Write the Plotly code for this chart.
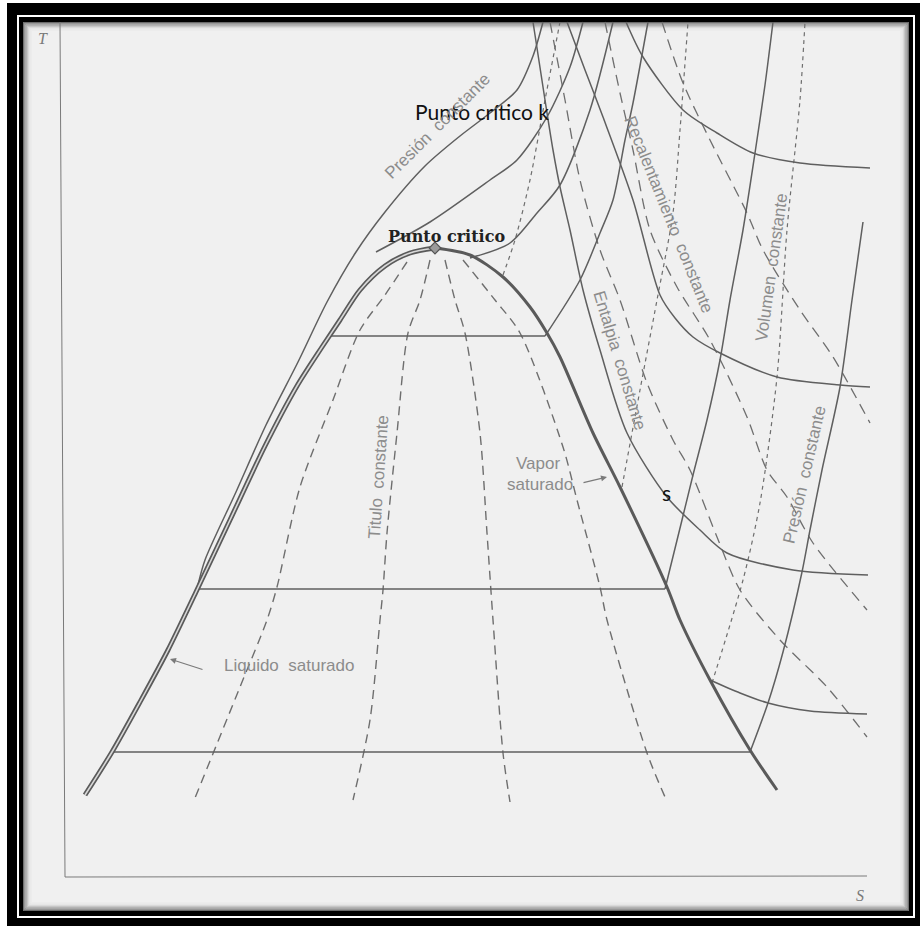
import plotly.graph_objects as go

# ---------------- saturation dome (entropy s, temperature T in drawing units) -------------
s_liq = [85, 112, 140, 168, 196, 230, 265, 297, 322, 340, 360, 385, 410, 435]
T_liq = [131, 174, 224, 276, 334, 406, 480, 540, 579, 606, 636, 660, 673, 678]
s_vap = [435, 470, 503, 530, 547, 560, 593, 620, 667, 680, 710, 750, 777]
T_vap = [678, 671, 649, 619, 593, 569, 493, 439, 339, 306, 246, 176, 136]
s_crit = [435]
T_crit = [678]

# horizontal (two-phase) parts of the isobars
tie_T = [590, 337, 174]
tie_s_left = [328, 197, 112]
tie_s_right = [545, 665, 750]

# isobars in the superheated / supercritical region
s_p_low = [750, 768, 783, 802, 810, 822, 840, 852, 863]
T_p_low = [174, 223, 274, 354, 396, 456, 539, 626, 704]
s_p_mid = [665, 682, 693, 707, 720, 730, 743, 755, 765, 773]
T_p_mid = [337, 406, 451, 506, 566, 626, 696, 773, 841, 904]
s_p_top = [545, 580, 600, 613, 625, 633, 648]
T_p_top = [590, 646, 693, 726, 786, 823, 904]
s_p_cr = [470, 510, 537, 560, 590, 613]
T_p_cr = [668, 683, 713, 741, 816, 904]
s_p_sc2 = [376, 430, 490, 517, 547, 570, 583]
T_p_sc2 = [674, 704, 746, 766, 809, 859, 904]
s_p_sc1 = [198, 205, 236, 266, 298, 327, 356, 385, 425, 460, 490, 517, 533, 543]
T_p_sc1 = [341, 366, 434, 501, 564, 624, 674, 714, 760, 790, 813, 836, 870, 904]

# constant enthalpy lines
s_h1 = [533, 545, 553, 560, 570, 583, 600, 627, 667, 700, 727, 793, 868]
T_h1 = [904, 826, 776, 739, 696, 636, 576, 493, 429, 396, 373, 356, 351]
s_h2 = [626, 643, 683, 717, 753, 800, 870]
T_h2 = [904, 869, 816, 793, 773, 763, 758]
s_h3 = [567, 585, 603, 633, 660, 675, 693, 720, 777, 840, 870]
T_h3 = [904, 856, 809, 726, 631, 608, 589, 573, 549, 541, 539]
s_h4 = [710, 740, 768, 810, 867]
T_h4 = [246, 233, 223, 215, 212]

# constant quality lines
s_q1 = [407, 385, 360, 333, 300, 277, 267, 240, 195]
T_q1 = [664, 631, 596, 526, 439, 339, 306, 239, 128]
s_q2 = [430, 420, 408, 397, 387, 383, 380, 370, 353]
T_q2 = [666, 626, 593, 493, 393, 336, 306, 206, 126]
s_q3 = [445, 455, 465, 480, 487, 493, 503, 510]
T_q3 = [666, 626, 593, 493, 393, 306, 173, 124]
s_q4 = [463, 495, 520, 563, 577, 600, 607, 647, 665]
T_q4 = [666, 626, 593, 479, 426, 339, 306, 173, 129]

# constant volume lines
s_v0 = [503, 515, 530, 545, 560]
T_v0 = [651, 686, 746, 826, 904]
s_v1 = [622, 640, 657, 673, 680, 688]
T_v1 = [439, 536, 626, 713, 796, 904]
s_v2 = [712, 743, 760, 777, 787, 800, 805]
T_v2 = [243, 346, 423, 549, 696, 826, 904]

# constant superheat lines
s_shA = [550, 565, 580, 600, 620, 647, 673, 690, 717, 740, 780, 827, 867]
T_shA = [904, 826, 746, 676, 626, 543, 486, 456, 389, 336, 286, 239, 189]
s_shB = [605, 620, 633, 650, 677, 710, 747, 767, 787, 813, 867]
T_shB = [904, 833, 776, 696, 639, 586, 509, 456, 429, 383, 316]
s_shC = [662, 683, 710, 747, 763, 800, 833, 870]
T_shC = [904, 843, 786, 713, 676, 616, 569, 503]

# axes of the diagram
s_axis_T = [60, 65]
T_axis_T = [904, 49]
s_axis_S = [65, 867]
T_axis_S = [49, 50]

INK = "#5f5f5f"
DASH_INK = "#6e6e6e"
LABEL = "#8c8c8c"

fig = go.Figure()


def curve(s, T, color=INK, width=1.5, dash="solid", shape="spline"):
    fig.add_trace(go.Scatter(
        x=s, y=T, mode="lines",
        line=dict(color=color, width=width, dash=dash, shape=shape, smoothing=0.8),
        hoverinfo="skip", showlegend=False))


# axes
curve(s_axis_T, T_axis_T, color="#7a7a7a", width=1, shape="linear")
curve(s_axis_S, T_axis_S, color="#7a7a7a", width=1, shape="linear")

# quality lines
for s, T in [(s_q1, T_q1), (s_q2, T_q2), (s_q3, T_q3), (s_q4, T_q4)]:
    curve(s, T, color=DASH_INK, width=1.4, dash="9px,6px")

# volume lines
for s, T in [(s_v0, T_v0), (s_v1, T_v1), (s_v2, T_v2)]:
    curve(s, T, color=DASH_INK, width=1.2, dash="4px,4px")

# superheat lines
for s, T in [(s_shA, T_shA), (s_shB, T_shB), (s_shC, T_shC)]:
    curve(s, T, color=DASH_INK, width=1.3, dash="11px,7px")

# isobars
for i in range(len(tie_T)):
    curve([tie_s_left[i], tie_s_right[i]], [tie_T[i], tie_T[i]], width=1.5, shape="linear")
for s, T in [(s_p_low, T_p_low), (s_p_mid, T_p_mid), (s_p_top, T_p_top),
             (s_p_cr, T_p_cr), (s_p_sc2, T_p_sc2), (s_p_sc1, T_p_sc1)]:
    curve(s, T, width=1.5)

# enthalpy lines
for s, T in [(s_h1, T_h1), (s_h2, T_h2), (s_h3, T_h3), (s_h4, T_h4)]:
    curve(s, T, width=1.5)

# saturated liquid (double line) and saturated vapour
curve(s_liq, T_liq, color="#5a5a5a", width=5)
curve(s_liq, T_liq, color="#d8d8d8", width=1.6)
curve(s_vap, T_vap, color="#5a5a5a", width=3)

fig.add_trace(go.Scatter(x=s_crit, y=T_crit, mode="markers",
                         marker=dict(symbol="diamond", size=9, color="#9a9a9a",
                                     line=dict(color="#555", width=1.2)),
                         hoverinfo="skip", showlegend=False))

# ---------------- frame ----------------
shapes = [
    dict(type="rect", x0=7, x1=920, y0=0, y1=923, fillcolor="black", line=dict(width=0)),
    dict(type="rect", x0=17, x1=915, y0=8, y1=911, fillcolor="white", line=dict(width=0)),
    dict(type="rect", x0=19, x1=913, y0=10, y1=909, fillcolor="black", line=dict(width=0)),
    dict(type="rect", x0=23, x1=909, y0=15, y1=904, fillcolor="#f0f0f0", line=dict(width=0)),
]
shade = ["#6a6a6a", "#8e8e8e", "#acacac", "#c6c6c6", "#d9d9d9", "#e6e6e6", "#ececec"]
for k, c in enumerate(shade):
    d = 0.75 + 1.25 * k
    shapes.append(dict(type="rect", x0=23 + d, x1=909 - d, y0=15 + d, y1=904 - d,
                       fillcolor="rgba(0,0,0,0)", line=dict(color=c, width=1.4)))
for sh in shapes:
    sh["layer"] = "below"

annotations = []


def label(text, x, y, angle=0, size=17, color=LABEL, family="Liberation Sans"):
    annotations.append(dict(text=text, x=x, y=y, xref="x", yref="y", showarrow=False,
                            textangle=angle, font=dict(size=size, color=color, family=family),
                            xanchor="center", yanchor="middle"))


label("<i>T</i>", 43, 888, size=16, color="#7a7a7a", family="Liberation Serif")
label("<i>S</i>", 860, 31, size=16, color="#7a7a7a", family="Liberation Serif")
label("Punto crítico k", 482, 815, size=21, color="#111111", family="Lato")
label("<b>Punto critico</b>", 446, 690, size=16, color="#222222", family="DejaVu Serif")
label("Presión  constante", 437, 800, angle=-45)
label("Recalentamiento  constante", 669, 712, angle=68)
label("Entalpia  constante", 620, 566, angle=73)
label("Volumen  constante", 771, 658, angle=-82)
label("Presión  constante", 804, 451, angle=-77)
label("Titulo  constante", 378, 449, angle=-86)
label("Vapor", 538, 463)
label("saturado", 540, 442)
label("Liquido  saturado", 289, 261)
label("s", 666, 434, size=21, color="#111111", family="Lato")

# pointer arrows
annotations.append(dict(x=607, y=449, ax=582, ay=443, xref="x", yref="y", axref="x", ayref="y",
                        text="", showarrow=True, arrowhead=2, arrowsize=1, arrowwidth=1.2,
                        arrowcolor="#7a7a7a"))
annotations.append(dict(x=170, y=267, ax=204, ay=256, xref="x", yref="y", axref="x", ayref="y",
                        text="", showarrow=True, arrowhead=2, arrowsize=1, arrowwidth=1.2,
                        arrowcolor="#7a7a7a"))

fig.update_layout(
    width=920, height=926,
    margin=dict(l=0, r=0, t=0, b=0),
    paper_bgcolor="white", plot_bgcolor="white",
    xaxis=dict(range=[0, 920], visible=False, fixedrange=True),
    yaxis=dict(range=[0, 926], visible=False, fixedrange=True),
    shapes=shapes, annotations=annotations, showlegend=False,
)

fig.write_html("out.html")
